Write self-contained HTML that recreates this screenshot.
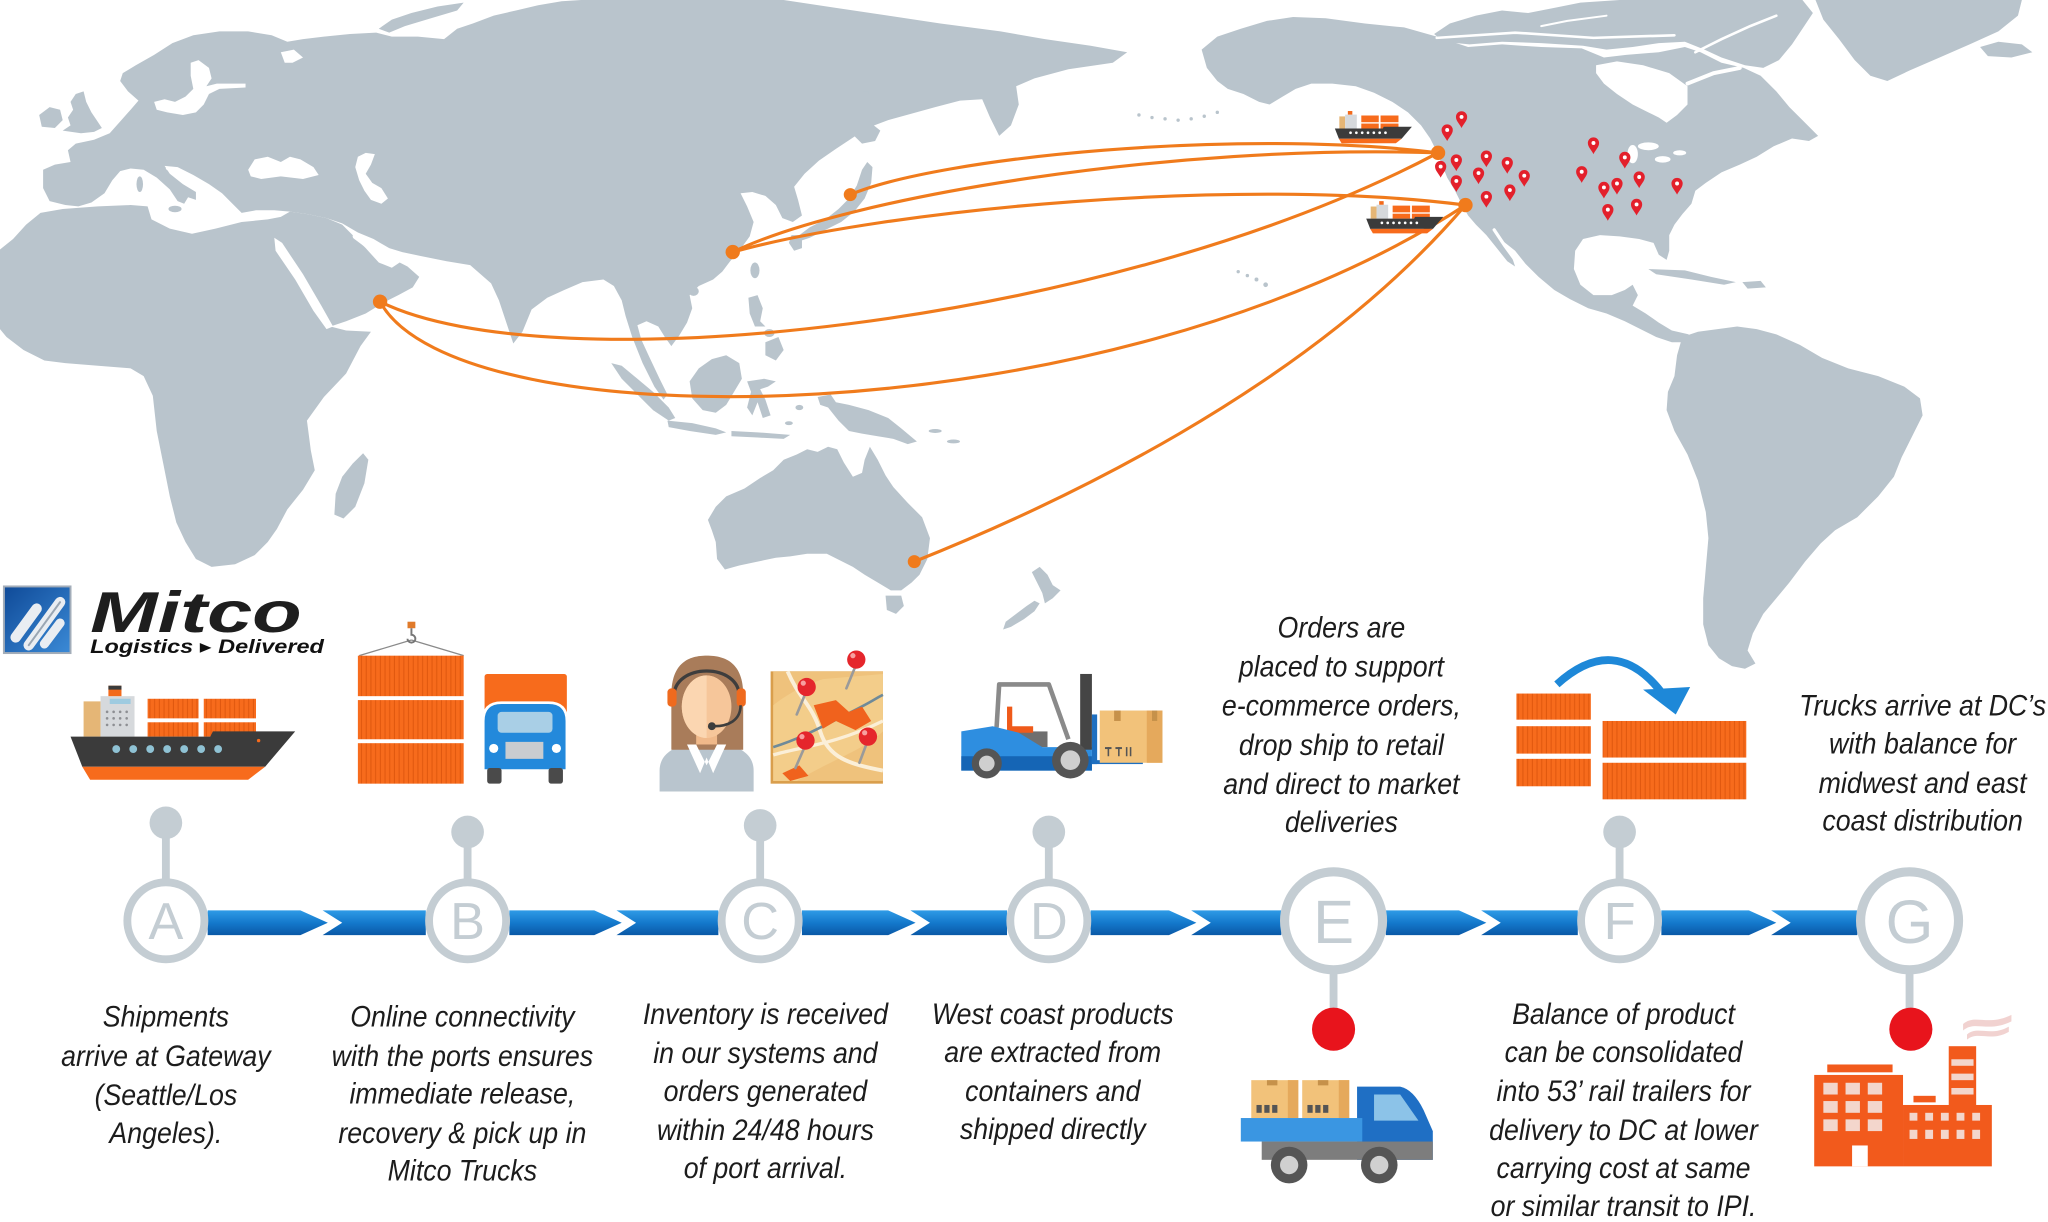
<!DOCTYPE html>
<html>
<head>
<meta charset="utf-8">
<style>
html,body{margin:0;padding:0;background:#fff;}
svg{display:block;}
.t{font-family:"Liberation Sans",sans-serif;font-style:italic;font-size:22.5px;fill:#1c1c1c;text-anchor:middle;}
.lt{font-family:"Liberation Sans",sans-serif;fill:#c4cdd3;text-anchor:middle;}
</style>
</head>
<body>
<svg width="2048" height="1222" viewBox="0 0 1568 935.6" preserveAspectRatio="none" xmlns="http://www.w3.org/2000/svg">
<defs>
  <linearGradient id="bar" x1="0" y1="0" x2="0" y2="1">
    <stop offset="0" stop-color="#2f9be6"/>
    <stop offset="0.5" stop-color="#1479cc"/>
    <stop offset="1" stop-color="#0a58a6"/>
  </linearGradient>
  <linearGradient id="logoG" x1="0" y1="0" x2="1" y2="1">
    <stop offset="0" stop-color="#0f4a98"/>
    <stop offset="1" stop-color="#3b8ad6"/>
  </linearGradient>
  <pattern id="ridge" width="3.6" height="10" patternUnits="userSpaceOnUse">
    <rect width="3.6" height="10" fill="#f76b1c"/>
    <rect x="2.8" width="0.8" height="10" fill="#e0580f"/>
  </pattern>
</defs>

<!-- ================= MAP ================= -->
<g fill="#b9c4cc">
  <!-- Eurasia -->
  <polygon points="50,157 38,154 33,144 33,130 42,126 54,124 52,115 58,110 72,107 84,102 92,93 100,84 106,77 98,70 92,62 94,56 104,50 118,42 132,33 148,27 168,24 190,24 208,27 220,32 232,30 248,28 268,26 288,25 300,28 320,28 340,30 350,22 362,18 378,12 395,8 412,4 430,1 445,0 600,0 640,6 680,12 720,18 766,24 800,30 835,35 863,40 852,48 818,53 792,60 778,66 780,80 774,96 765,104 758,90 752,76 735,77 716,82 698,87 680,92 664,98 652,106 640,114 627,123 616,133 608,143 611,153 614,165 607,170 599,167 594,157 586,150 576,147 567,148 572,158 577,170 574,181 566,192 559,200 553,208 546,214 535,219 528,226 530,236 526,247 520,257 514,265 509,258 504,250 495,246 488,249 491,260 497,273 505,290 511,302 508,306 501,296 492,278 484,258 479,242 476,230 470,219 462,214 446,216 432,222 419,228 407,237 400,254 393,263 387,245 382,230 376,217 360,203 342,200 322,196 308,193 298,190 286,183 274,178 262,171 250,167 236,164 222,162 210,161 196,161 185,163 178,156 170,148 160,141 148,134 136,128 126,127 130,133 140,141 150,147 150,153 144,151 141,156 136,154 130,145 120,136 110,130 100,129 92,131 86,138 80,148 70,155 60,158"/>
  <!-- Africa + Arabia -->
  <polygon points="0,191 10,183 20,172 31,163 48,160 75,158 100,157 113,158 116,168 130,175 147,179 165,175 185,170 205,168 215,166 222,162 236,164 250,167 262,172 270,180 280,190 290,201 300,205 306,201 312,204 321,212 316,220 305,226 293,232 280,240 265,246 253,250 265,253 284,254 276,265 265,286 248,304 235,322 238,345 241,360 232,375 220,390 212,405 205,415 195,425 180,432 162,434 150,428 142,415 135,400 130,380 125,355 120,330 117,303 110,288 100,282 75,280 50,278 34,276 18,268 5,258 0,252"/>
  <!-- Madagascar -->
  <polygon points="278,347 282,352 279,370 272,388 263,397 256,394 257,378 262,365 270,355"/>
  <!-- UK / Ireland -->
  <polygon points="48,100 54,96 52,90 56,84 54,78 58,72 64,70 66,78 70,86 74,92 78,98 72,101 62,102"/>
  <polygon points="30,88 38,82 46,84 48,92 42,98 32,97"/>
  <ellipse cx="107" cy="141" rx="2.5" ry="6"/>
  <ellipse cx="134" cy="160" rx="5" ry="2.5"/>
  <!-- Novaya Zemlya -->
  <polygon points="290,22 300,15 315,10 335,5 355,2 350,8 330,14 310,20 298,25"/>
  <!-- Japan etc -->
  <polygon points="612,180 620,174 632,168 642,160 650,152 656,142 660,130 664,124 668,128 667,140 662,152 654,162 644,170 632,176 620,182 614,184"/>
  <polygon points="606,180 614,180 614,190 608,192 604,186"/>
  <polygon points="655,96 664,92 674,100 670,108 660,110 654,104"/>
  <polygon points="660,70 665,70 668,90 664,92 660,80"/>
  <ellipse cx="578" cy="207" rx="3.5" ry="6"/>
  <ellipse cx="531" cy="223" rx="4" ry="3.5"/>
  <!-- Philippines -->
  <polygon points="573,228 580,226 584,236 582,246 586,250 578,250 574,240"/>
  <polygon points="586,262 596,258 600,268 594,276 586,272"/>
  <ellipse cx="589" cy="255" rx="4" ry="3"/>
  <!-- Indonesia -->
  <polygon points="528,292 535,282 545,275 556,272 566,278 568,290 562,300 556,310 548,316 538,314 530,305"/>
  <polygon points="572,292 585,290 594,292 588,296 582,298 586,306 590,318 584,320 580,308 576,318 572,312 575,300"/>
  <polygon points="468,278 476,280 488,290 500,300 512,312 517,320 512,322 500,314 488,302 476,290"/>
  <polygon points="511,322 530,324 548,328 556,331 548,333 528,330 512,327"/>
  <polygon points="560,330 580,331 605,333 600,336 580,335 560,334"/>
  <polygon points="626,304 636,302 640,308 650,310 665,314 680,320 690,328 702,338 695,340 684,336 672,334 660,332 650,330 642,322 634,312 628,310"/>
  <ellipse cx="612" cy="312" rx="3" ry="2"/><ellipse cx="604" cy="324" rx="3" ry="1.5"/>
  <ellipse cx="716" cy="330" rx="5" ry="1.5"/><ellipse cx="730" cy="338" rx="5" ry="1.5"/>
  <!-- Australia -->
  <polygon points="542,398 548,388 556,380 570,374 582,366 592,360 600,352 610,348 618,344 626,346 634,342 641,344 646,354 653,365 660,362 662,352 666,342 672,352 678,364 684,373 695,385 706,396 712,412 710,428 704,440 698,446 690,452 682,452 672,446 662,440 653,434 645,430 633,424 618,424 605,426 594,427 580,430 566,433 555,436 549,428 548,415 545,406"/>
  <polygon points="678,456 690,456 692,464 686,470 679,467"/>
  <!-- New Zealand -->
  <polygon points="796,434 802,440 806,448 812,452 806,458 800,462 798,454 794,446 790,438"/>
  <polygon points="796,462 792,468 784,474 774,480 768,482 770,476 778,470 786,464 792,460"/>
  <!-- North America -->
  <polygon points="920,38 932,28 950,22 970,16 990,13 1015,14 1045,18 1075,21 1100,28 1124,36 1150,34 1180,36 1211,37 1228,44 1245,42 1270,40 1290,36 1302,40 1318,48 1335,52 1348,58 1360,70 1370,82 1380,92 1392,104 1385,108 1372,106 1358,112 1345,120 1332,126 1318,132 1306,140 1298,146 1295,156 1288,164 1282,172 1278,180 1278,192 1276,199 1270,195 1266,186 1255,183 1240,181 1225,180 1212,183 1206,192 1205,206 1210,218 1220,226 1234,226 1244,222 1250,218 1254,226 1250,234 1260,240 1270,247 1280,253 1293,256 1290,262 1280,262 1268,258 1256,252 1244,246 1230,240 1216,236 1202,229 1190,222 1178,212 1168,202 1160,192 1150,184 1145,178 1152,188 1158,198 1160,204 1154,200 1146,190 1138,180 1130,172 1124,165 1119,156 1114,146 1108,136 1104,126 1100,116 1095,106 1088,96 1078,86 1066,78 1052,71 1038,66 1020,64 1004,64 992,68 982,74 972,80 964,78 952,72 940,68 932,62 924,52"/>
  <!-- Arctic islands -->
  <polygon points="1098,26 1110,18 1130,12 1150,8 1170,10 1190,6 1210,2 1240,0 1380,0 1388,10 1380,22 1372,34 1362,46 1350,52 1336,50 1318,44 1305,38 1290,32 1270,33 1250,36 1230,38 1212,35 1180,33 1150,32 1125,34 1105,32"/>
  <!-- Greenland / Iceland -->
  <polygon points="1390,0 1548,0 1545,12 1530,24 1508,34 1485,44 1462,54 1445,62 1432,58 1420,46 1408,30 1396,15"/>
  <polygon points="1516,36 1530,32 1548,34 1556,40 1540,44 1522,43"/>
  <!-- Caribbean -->
  <polygon points="1262,206 1290,207 1310,212 1329,216 1320,218 1295,214 1268,210"/>
  <polygon points="1334,216 1348,215 1352,220 1338,221"/>
  <!-- South America -->
  <polygon points="1288,258 1300,254 1315,252 1330,250 1345,252 1360,256 1378,264 1395,274 1415,282 1438,288 1458,296 1470,305 1472,318 1465,332 1456,350 1450,365 1438,380 1422,396 1405,406 1394,416 1382,430 1370,446 1360,458 1350,470 1342,485 1338,498 1344,508 1336,512 1326,510 1316,504 1308,494 1304,478 1304,458 1306,435 1308,412 1306,392 1300,368 1292,348 1282,330 1276,314 1277,300 1282,288 1284,272"/>
  <!-- Aleutians & Pacific dots -->
  <circle cx="872" cy="88" r="1.3"/><circle cx="882" cy="90" r="1.3"/><circle cx="892" cy="91" r="1.3"/><circle cx="902" cy="92" r="1.3"/><circle cx="912" cy="91" r="1.3"/><circle cx="922" cy="89" r="1.3"/><circle cx="932" cy="86" r="1.3"/>
  <circle cx="948" cy="208" r="1.3"/><circle cx="955" cy="211" r="1.3"/><circle cx="962" cy="214" r="1.5"/><circle cx="969" cy="218" r="1.8"/>
</g>
<!-- inland seas / channels -->
<g fill="#fff">
  <polygon points="190,130 195,122 205,120 215,124 222,120 230,122 240,128 244,134 232,137 215,135 200,137 192,135"/>
  <polygon points="280,117 287,118 284,126 280,133 285,140 292,144 297,152 292,156 284,153 279,146 275,138 272,128 274,120"/>
  <polygon points="146,48 152,46 160,52 162,60 158,66 166,64 188,64 188,67 168,68 160,72 156,80 150,86 140,88 128,86 120,84 118,78 126,76 134,78 142,74 148,68 146,58"/>
  <polygon points="215,40 225,38 232,44 224,48 218,48"/>
  <polygon points="210,182 216,186 232,210 246,234 255,250 250,252 240,238 226,214 211,192"/>
  <polygon points="1222,50 1238,47 1258,50 1278,56 1292,66 1292,80 1284,88 1276,94 1270,90 1262,86 1250,80 1238,72 1228,64 1222,56"/>
  <ellipse cx="1250" cy="118" rx="4" ry="7"/><ellipse cx="1262" cy="112" rx="8" ry="3"/><ellipse cx="1273" cy="122" rx="6" ry="2.5"/><ellipse cx="1286" cy="117" rx="5" ry="2"/>
</g>
<g fill="none" stroke="#fff" stroke-linecap="round">
  <polyline points="272,181 284,190 294,200" stroke-width="4"/>
  <polyline points="128,129 140,138 150,145" stroke-width="2"/>
  <polyline points="1144,176 1152,188 1160,199" stroke-width="2.5"/>
  <polyline points="1100,29 1160,25 1220,29 1282,27" stroke-width="2"/>
  <polyline points="1298,40 1318,30 1340,20 1360,12" stroke-width="2"/>
  <polyline points="1292,64 1312,56 1332,52" stroke-width="3"/>
  <polyline points="1180,20 1200,16 1230,12" stroke-width="1.5"/>
</g>

<!-- routes -->
<g fill="none" stroke="#f07b1c" stroke-width="2.4">
  <path d="M651,149 C720,120 950,98 1101,117"/>
  <path d="M561,193 C650,150 900,110 1101,117"/>
  <path d="M561,193 C680,160 950,135 1122,157"/>
  <path d="M291,231 C420,295 850,250 1101,117"/>
  <path d="M291,231 C350,340 850,335 1122,157"/>
  <path d="M700,430 C800,390 1000,300 1122,157"/>
</g>
<g fill="#f07b1c">
  <circle cx="651" cy="149" r="5"/><circle cx="561" cy="193" r="5.5"/><circle cx="291" cy="231" r="5.5"/><circle cx="700" cy="430" r="5"/><circle cx="1101" cy="117" r="5.5"/><circle cx="1122" cy="157" r="5.5"/>
</g>

<!-- pins -->
<g fill="#e3202b">
  <g transform="translate(1119,90)"><path d="M0,8 C-1.5,5 -4.3,2.5 -4.3,-0.5 A4.3,4.3 0 1 1 4.3,-0.5 C4.3,2.5 1.5,5 0,8Z"/><circle cy="-0.5" r="1.5" fill="#fff"/></g>
  <g transform="translate(1108,100)"><path d="M0,8 C-1.5,5 -4.3,2.5 -4.3,-0.5 A4.3,4.3 0 1 1 4.3,-0.5 C4.3,2.5 1.5,5 0,8Z"/><circle cy="-0.5" r="1.5" fill="#fff"/></g>
  <g transform="translate(1103,128)"><path d="M0,8 C-1.5,5 -4.3,2.5 -4.3,-0.5 A4.3,4.3 0 1 1 4.3,-0.5 C4.3,2.5 1.5,5 0,8Z"/><circle cy="-0.5" r="1.5" fill="#fff"/></g>
  <g transform="translate(1115,123)"><path d="M0,8 C-1.5,5 -4.3,2.5 -4.3,-0.5 A4.3,4.3 0 1 1 4.3,-0.5 C4.3,2.5 1.5,5 0,8Z"/><circle cy="-0.5" r="1.5" fill="#fff"/></g>
  <g transform="translate(1138,120)"><path d="M0,8 C-1.5,5 -4.3,2.5 -4.3,-0.5 A4.3,4.3 0 1 1 4.3,-0.5 C4.3,2.5 1.5,5 0,8Z"/><circle cy="-0.5" r="1.5" fill="#fff"/></g>
  <g transform="translate(1154,125)"><path d="M0,8 C-1.5,5 -4.3,2.5 -4.3,-0.5 A4.3,4.3 0 1 1 4.3,-0.5 C4.3,2.5 1.5,5 0,8Z"/><circle cy="-0.5" r="1.5" fill="#fff"/></g>
  <g transform="translate(1132,133)"><path d="M0,8 C-1.5,5 -4.3,2.5 -4.3,-0.5 A4.3,4.3 0 1 1 4.3,-0.5 C4.3,2.5 1.5,5 0,8Z"/><circle cy="-0.5" r="1.5" fill="#fff"/></g>
  <g transform="translate(1115,139)"><path d="M0,8 C-1.5,5 -4.3,2.5 -4.3,-0.5 A4.3,4.3 0 1 1 4.3,-0.5 C4.3,2.5 1.5,5 0,8Z"/><circle cy="-0.5" r="1.5" fill="#fff"/></g>
  <g transform="translate(1167,135)"><path d="M0,8 C-1.5,5 -4.3,2.5 -4.3,-0.5 A4.3,4.3 0 1 1 4.3,-0.5 C4.3,2.5 1.5,5 0,8Z"/><circle cy="-0.5" r="1.5" fill="#fff"/></g>
  <g transform="translate(1138,151)"><path d="M0,8 C-1.5,5 -4.3,2.5 -4.3,-0.5 A4.3,4.3 0 1 1 4.3,-0.5 C4.3,2.5 1.5,5 0,8Z"/><circle cy="-0.5" r="1.5" fill="#fff"/></g>
  <g transform="translate(1156,146)"><path d="M0,8 C-1.5,5 -4.3,2.5 -4.3,-0.5 A4.3,4.3 0 1 1 4.3,-0.5 C4.3,2.5 1.5,5 0,8Z"/><circle cy="-0.5" r="1.5" fill="#fff"/></g>
  <g transform="translate(1220,110)"><path d="M0,8 C-1.5,5 -4.3,2.5 -4.3,-0.5 A4.3,4.3 0 1 1 4.3,-0.5 C4.3,2.5 1.5,5 0,8Z"/><circle cy="-0.5" r="1.5" fill="#fff"/></g>
  <g transform="translate(1244,121)"><path d="M0,8 C-1.5,5 -4.3,2.5 -4.3,-0.5 A4.3,4.3 0 1 1 4.3,-0.5 C4.3,2.5 1.5,5 0,8Z"/><circle cy="-0.5" r="1.5" fill="#fff"/></g>
  <g transform="translate(1211,132)"><path d="M0,8 C-1.5,5 -4.3,2.5 -4.3,-0.5 A4.3,4.3 0 1 1 4.3,-0.5 C4.3,2.5 1.5,5 0,8Z"/><circle cy="-0.5" r="1.5" fill="#fff"/></g>
  <g transform="translate(1228,144)"><path d="M0,8 C-1.5,5 -4.3,2.5 -4.3,-0.5 A4.3,4.3 0 1 1 4.3,-0.5 C4.3,2.5 1.5,5 0,8Z"/><circle cy="-0.5" r="1.5" fill="#fff"/></g>
  <g transform="translate(1238,141)"><path d="M0,8 C-1.5,5 -4.3,2.5 -4.3,-0.5 A4.3,4.3 0 1 1 4.3,-0.5 C4.3,2.5 1.5,5 0,8Z"/><circle cy="-0.5" r="1.5" fill="#fff"/></g>
  <g transform="translate(1255,136)"><path d="M0,8 C-1.5,5 -4.3,2.5 -4.3,-0.5 A4.3,4.3 0 1 1 4.3,-0.5 C4.3,2.5 1.5,5 0,8Z"/><circle cy="-0.5" r="1.5" fill="#fff"/></g>
  <g transform="translate(1284,141)"><path d="M0,8 C-1.5,5 -4.3,2.5 -4.3,-0.5 A4.3,4.3 0 1 1 4.3,-0.5 C4.3,2.5 1.5,5 0,8Z"/><circle cy="-0.5" r="1.5" fill="#fff"/></g>
  <g transform="translate(1231,161)"><path d="M0,8 C-1.5,5 -4.3,2.5 -4.3,-0.5 A4.3,4.3 0 1 1 4.3,-0.5 C4.3,2.5 1.5,5 0,8Z"/><circle cy="-0.5" r="1.5" fill="#fff"/></g>
  <g transform="translate(1253,157)"><path d="M0,8 C-1.5,5 -4.3,2.5 -4.3,-0.5 A4.3,4.3 0 1 1 4.3,-0.5 C4.3,2.5 1.5,5 0,8Z"/><circle cy="-0.5" r="1.5" fill="#fff"/></g>
</g>

<!-- small ships on map -->
<g transform="translate(1022,85) scale(0.343) translate(-54,-525)">
  <rect x="64" y="537" width="13" height="27" fill="#e5b676"/>
  <rect x="77" y="533" width="26" height="31" fill="#d6d9dc"/>
  <rect x="83" y="525" width="10" height="8" fill="#f26a1b"/>
  <rect x="113" y="535" width="39" height="15" fill="#f76b1c"/><rect x="156" y="535" width="40" height="15" fill="#f76b1c"/>
  <rect x="113" y="553" width="39" height="11" fill="#f76b1c"/><rect x="156" y="553" width="40" height="11" fill="#f76b1c"/>
  <polygon points="54,564 161,564 163,560 226,560 203,587 63,587" fill="#3b3b3b"/>
  <polygon points="63,587 203,587 190,597 69,597" fill="#f76b1c"/>
  <g fill="#fff"><circle cx="89" cy="573.5" r="3"/><circle cx="102" cy="573.5" r="3"/><circle cx="115" cy="573.5" r="3"/><circle cx="128" cy="573.5" r="3"/><circle cx="141" cy="573.5" r="3"/><circle cx="154" cy="573.5" r="3"/><circle cx="167" cy="573.5" r="3"/></g>
</g>
<g transform="translate(1046,154) scale(0.343) translate(-54,-525)">
  <rect x="64" y="537" width="13" height="27" fill="#e5b676"/>
  <rect x="77" y="533" width="26" height="31" fill="#d6d9dc"/>
  <rect x="83" y="525" width="10" height="8" fill="#f26a1b"/>
  <rect x="113" y="535" width="39" height="15" fill="#f76b1c"/><rect x="156" y="535" width="40" height="15" fill="#f76b1c"/>
  <rect x="113" y="553" width="39" height="11" fill="#f76b1c"/><rect x="156" y="553" width="40" height="11" fill="#f76b1c"/>
  <polygon points="54,564 161,564 163,560 226,560 203,587 63,587" fill="#3b3b3b"/>
  <polygon points="63,587 203,587 190,597 69,597" fill="#f76b1c"/>
  <g fill="#fff"><circle cx="89" cy="573.5" r="3"/><circle cx="102" cy="573.5" r="3"/><circle cx="115" cy="573.5" r="3"/><circle cx="128" cy="573.5" r="3"/><circle cx="141" cy="573.5" r="3"/><circle cx="154" cy="573.5" r="3"/><circle cx="167" cy="573.5" r="3"/></g>
</g>

<!-- ================= LOGO ================= -->
<rect x="3" y="449" width="51" height="51" fill="url(#logoG)" stroke="#a3adb9" stroke-width="1.5"/>
<g stroke-linecap="round" fill="none">
  <line x1="12" y1="488" x2="28" y2="466" stroke="#e9edf2" stroke-width="8"/>
  <line x1="22" y1="494" x2="46" y2="461" stroke="#e9edf2" stroke-width="8"/>
  <line x1="34" y1="493" x2="46" y2="477" stroke="#e9edf2" stroke-width="7"/>
  <line x1="22" y1="494" x2="46" y2="461" stroke="#9aa6b3" stroke-width="1.5"/>
</g>
<text x="69" y="484" font-family="Liberation Sans, sans-serif" font-weight="bold" font-style="italic" font-size="44" fill="#1e1e1e" textLength="162" lengthAdjust="spacingAndGlyphs">Mitco</text>
<text x="69" y="500" font-family="Liberation Sans, DejaVu Sans, sans-serif" font-weight="bold" font-style="italic" font-size="15" fill="#111" textLength="179" lengthAdjust="spacingAndGlyphs">Logistics ▸ Delivered</text>

<!-- ================= ICON A: ship ================= -->
<g>
  <rect x="64" y="537" width="13" height="27" fill="#e5b676"/>
  <rect x="77" y="533" width="26" height="31" fill="#d6d9dc"/>
  <rect x="84" y="535" width="16" height="4" fill="#9ecbe0"/>
  <g fill="#8d8f93"><circle cx="82" cy="545" r="1"/><circle cx="87" cy="545" r="1"/><circle cx="92" cy="545" r="1"/><circle cx="97" cy="545" r="1"/><circle cx="82" cy="550" r="1"/><circle cx="87" cy="550" r="1"/><circle cx="92" cy="550" r="1"/><circle cx="97" cy="550" r="1"/><circle cx="82" cy="555" r="1"/><circle cx="87" cy="555" r="1"/><circle cx="92" cy="555" r="1"/><circle cx="97" cy="555" r="1"/></g>
  <rect x="83" y="525" width="10" height="8" fill="#f26a1b"/><rect x="83" y="525" width="10" height="3" fill="#3b3b3b"/>
  <rect x="113" y="535" width="39" height="15" fill="url(#ridge)"/><rect x="156" y="535" width="40" height="15" fill="url(#ridge)"/>
  <rect x="113" y="553" width="39" height="11" fill="url(#ridge)"/><rect x="156" y="553" width="40" height="11" fill="url(#ridge)"/>
  <polygon points="54,564 161,564 163,560 226,560 203,587 63,587" fill="#3b3b3b"/>
  <polygon points="63,587 203,587 190,597 69,597" fill="#f76b1c"/>
  <circle cx="198" cy="567" r="1.3" fill="#f76b1c"/>
  <g fill="#8fc2d4"><circle cx="89" cy="573.5" r="3"/><circle cx="102" cy="573.5" r="3"/><circle cx="115" cy="573.5" r="3"/><circle cx="128" cy="573.5" r="3"/><circle cx="141" cy="573.5" r="3"/><circle cx="154" cy="573.5" r="3"/><circle cx="167" cy="573.5" r="3"/></g>
</g>

<!-- ================= ICON B: containers + truck ================= -->
<g>
  <line x1="315" y1="490" x2="275" y2="502" stroke="#8a8a8a" stroke-width="1"/>
  <line x1="315" y1="490" x2="355" y2="502" stroke="#8a8a8a" stroke-width="1"/>
  <rect x="312" y="476" width="6" height="5" fill="#e07a2a"/>
  <path d="M315,481 L315,486 A3,3 0 1 1 312,489" fill="none" stroke="#777" stroke-width="1.5"/>
  <rect x="274" y="502" width="81" height="31" fill="url(#ridge)"/>
  <rect x="274" y="536" width="81" height="30" fill="url(#ridge)"/>
  <rect x="274" y="569" width="81" height="31" fill="url(#ridge)"/>
  <rect x="371" y="516" width="63" height="52" rx="2" fill="#f76b1c"/>
  <path d="M370,590 L370,552 Q370,538 384,538 L420,538 Q434,538 434,552 L434,590 Z" fill="#2389db" stroke="#fff" stroke-width="2"/>
  <rect x="381" y="545" width="42" height="16" rx="3" fill="#a9cfe6"/>
  <rect x="387" y="568" width="29" height="13" fill="#c9ccd0"/>
  <circle cx="378" cy="573" r="3.5" fill="#fff"/><circle cx="426" cy="573" r="3.5" fill="#fff"/>
  <rect x="373" y="588" width="11" height="12" rx="2" fill="#4a4a4a"/>
  <rect x="420" y="588" width="11" height="12" rx="2" fill="#4a4a4a"/>
</g>

<!-- ================= ICON C: operator + map ================= -->
<g>
  <path d="M505,606 L505,590 C505,578 515,572 528,569 L554,569 C567,572 577,578 577,590 L577,606 Z" fill="#b9c5ce"/>
  <path d="M514,574 L514,532 C514,507 528,502 541,502 C556,502 569,508 569,532 L569,574 Z" fill="#a97c5a"/>
  <rect x="533" y="552" width="16" height="18" fill="#f0b98a"/>
  <ellipse cx="541" cy="541" rx="19" ry="24" fill="#f6c69a"/>
  <path d="M541,517 A19,24 0 0 0 541,565 Z" fill="#fbd6b1"/>
  <path d="M521,536 C520,515 530,509 541,509 C554,509 562,516 561,536 C556,522 548,517 541,517 C533,517 525,522 521,536 Z" fill="#a97c5a"/>
  <polygon points="526,570 536,592 541,580 546,592 556,570 549,570 541,586 533,570" fill="#fff"/>
  <path d="M516,534 C515,507 567,507 566,534" fill="none" stroke="#3d3d3d" stroke-width="2.5"/>
  <rect x="511" y="527" width="7" height="14" rx="3" fill="#ef6a1e"/>
  <rect x="564" y="527" width="7" height="14" rx="3" fill="#ef6a1e"/>
  <path d="M567,540 C567,552 557,556 547,556" fill="none" stroke="#3d3d3d" stroke-width="2"/>
  <circle cx="545" cy="556" r="3" fill="#3d3d3d"/>

  <rect x="590" y="514" width="86" height="86" fill="#d99e4c"/>
  <rect x="592" y="514" width="84" height="84" fill="#efc27c"/>
  <path d="M592,540 C605,530 615,525 630,520 L676,516 L676,560 C660,575 640,580 610,598 L592,598 Z" fill="#f3cd8a"/>
  <path d="M603,514 C612,535 622,540 628,560 S650,585 676,590" fill="none" stroke="#fbefd8" stroke-width="3"/>
  <path d="M592,578 C612,572 640,570 676,552" fill="none" stroke="#fbefd8" stroke-width="2.5"/>
  <path d="M592,572 C612,566 630,556 650,546 S668,536 676,532" fill="none" stroke="#6f8a99" stroke-width="2"/>
  <polygon points="623,540 640,536 650,545 660,541 667,552 655,559 640,552 630,558" fill="#f0621d"/>
  <polygon points="599,592 612,586 619,594 605,598" fill="#f0621d"/>
  <g stroke="#9a9a9a" stroke-width="2" stroke-linecap="round">
    <line x1="648" y1="527" x2="655" y2="510"/><line x1="610" y1="547" x2="617" y2="530"/>
    <line x1="609" y1="588" x2="616" y2="572"/><line x1="658" y1="584" x2="664" y2="568"/>
  </g>
  <g fill="#e5262c">
    <circle cx="655.6" cy="505" r="7"/><circle cx="617.6" cy="526" r="7"/><circle cx="616.7" cy="567" r="7"/><circle cx="664.5" cy="564" r="7"/>
  </g>
  <g fill="#f7a0a0"><circle cx="653" cy="502" r="2"/><circle cx="615" cy="523" r="2"/><circle cx="614" cy="564" r="2"/><circle cx="662" cy="561" r="2"/></g>
</g>

<!-- ================= ICON D: forklift ================= -->
<g>
  <path d="M763,557 L765,524 L803,524 L818,566" fill="none" stroke="#8a8a8a" stroke-width="3.5" stroke-linejoin="round"/>
  <rect x="778" y="560" width="24" height="12" fill="#6f6f6f"/>
  <path d="M771,541 L775,541 L775,556 L791,556 L791,561 L771,561 Z" fill="#ef5a1a"/>
  <path d="M736,560 L760,556 L780,561 L798,572 L836,572 L836,590 L736,590 Z" fill="#2e8ee0"/>
  <rect x="736" y="579" width="100" height="11" fill="#1565b5"/>
  <rect x="827" y="516" width="9" height="58" fill="#454545"/>
  <rect x="836" y="547" width="4" height="38" fill="#1e6fc0"/>
  <rect x="836" y="582" width="39" height="3" fill="#1e6fc0"/>
  <rect x="842" y="544" width="48" height="40" fill="#f2c27a"/>
  <rect x="878" y="544" width="12" height="40" fill="#e5a95c"/>
  <rect x="853" y="544" width="5" height="8" fill="#c6914a"/><rect x="882" y="544" width="4" height="8" fill="#c6914a"/>
  <g fill="#555"><rect x="846" y="572" width="5" height="1.5"/><rect x="848" y="572" width="1.2" height="7"/><rect x="854" y="572" width="5" height="1.5"/><rect x="856" y="572" width="1.2" height="7"/><rect x="862" y="572" width="1.2" height="7"/><rect x="865" y="572" width="1.2" height="7"/></g>
  <circle cx="755.5" cy="584.5" r="11.5" fill="#555"/><circle cx="755.5" cy="584.5" r="6" fill="#cfcfcf"/>
  <circle cx="819.5" cy="582" r="14" fill="#555"/><circle cx="819.5" cy="582" r="7.5" fill="#cfcfcf"/>
</g>

<!-- ================= ICON F: containers + arrow ================= -->
<g>
  <rect x="1161" y="531" width="57" height="20" fill="url(#ridge)"/>
  <rect x="1161" y="556" width="57" height="21" fill="url(#ridge)"/>
  <rect x="1161" y="581" width="57" height="21" fill="url(#ridge)"/>
  <rect x="1227" y="552" width="110" height="28" fill="url(#ridge)"/>
  <rect x="1227" y="584" width="110" height="28" fill="url(#ridge)"/>
  <path d="M1192,524 Q1236,484 1272,530" fill="none" stroke="#1e88d8" stroke-width="6"/>
  <polygon points="1258,528 1294,526 1283,547" fill="#1e88d8"/>
</g>

<!-- ================= ICON E: truck ================= -->
<g>
  <rect x="958" y="827" width="36" height="29" fill="#f2c27a"/><rect x="986" y="827" width="8" height="29" fill="#e5a95c"/><rect x="970" y="827" width="8" height="4" fill="#c6914a"/>
  <rect x="997" y="827" width="36" height="29" fill="#f2c27a"/><rect x="1025" y="827" width="8" height="29" fill="#e5a95c"/><rect x="1009" y="827" width="8" height="4" fill="#c6914a"/>
  <g fill="#555"><rect x="962" y="846" width="4" height="6"/><rect x="968" y="846" width="4" height="6"/><rect x="974" y="846" width="4" height="6"/><rect x="1001" y="846" width="4" height="6"/><rect x="1007" y="846" width="4" height="6"/><rect x="1013" y="846" width="4" height="6"/></g>
  <path d="M1039,832 L1072,832 Q1082,834 1090,850 L1097,866 L1097,888 L1039,888 Z" fill="#1f6fc4"/>
  <polygon points="1052,838 1072,838 1086,858 1052,858" fill="#8cc3e8"/>
  <rect x="950" y="856" width="93" height="18" fill="#3a96e2"/>
  <rect x="966" y="874" width="131" height="14" fill="#7d7d7d"/>
  <circle cx="987" cy="892" r="14" fill="#555"/><circle cx="987" cy="892" r="7" fill="#d0d0d0"/>
  <circle cx="1056" cy="892" r="14" fill="#555"/><circle cx="1056" cy="892" r="7" fill="#d0d0d0"/>
</g>

<!-- ================= ICON G: factory ================= -->
<g>
  <path d="M1503,784 C1512,776 1522,786 1540,777 L1540,782 C1522,791 1512,781 1503,789 Z" fill="#f1d2d0"/>
  <path d="M1506,792 C1514,785 1524,794 1538,786 L1538,790 C1524,798 1514,789 1506,796 Z" fill="#f1d2d0"/>
  <rect x="1399" y="815" width="50" height="6" fill="#f25a1c"/>
  <rect x="1389" y="823" width="68" height="70" fill="#f25a1c"/>
  <g fill="#f3d6cc">
    <rect x="1396" y="829" width="11" height="9"/><rect x="1413" y="829" width="11" height="9"/><rect x="1430" y="829" width="11" height="9"/>
    <rect x="1396" y="843" width="11" height="9"/><rect x="1413" y="843" width="11" height="9"/><rect x="1430" y="843" width="11" height="9"/>
    <rect x="1396" y="857" width="11" height="9"/><rect x="1413" y="857" width="11" height="9"/><rect x="1430" y="857" width="11" height="9"/>
  </g>
  <rect x="1418" y="877" width="12" height="16" fill="#fff"/>
  <rect x="1492" y="801" width="21" height="46" fill="#f25a1c"/>
  <g fill="#f3d6cc"><rect x="1494" y="811" width="17" height="5"/><rect x="1494" y="822" width="17" height="5"/><rect x="1494" y="833" width="17" height="5"/></g>
  <rect x="1465" y="839" width="17" height="5" fill="#f25a1c"/>
  <rect x="1457" y="846" width="68" height="47" fill="#f25a1c"/>
  <g fill="#f3d6cc">
    <rect x="1462" y="852" width="6" height="6"/><rect x="1474" y="852" width="6" height="6"/><rect x="1486" y="852" width="6" height="6"/><rect x="1498" y="852" width="6" height="6"/><rect x="1510" y="852" width="6" height="6"/>
    <rect x="1462" y="865" width="6" height="7"/><rect x="1474" y="865" width="6" height="7"/><rect x="1486" y="865" width="6" height="7"/><rect x="1498" y="865" width="6" height="7"/><rect x="1510" y="865" width="6" height="7"/>
  </g>
</g>

<!-- ================= TIMELINE ================= -->
<g fill="url(#bar)">
  <polygon points="159,697 230,697 251,706.5 230,716 159,716"/>
  <polygon points="247,697 326,697 326,716 247,716 262,706.5"/>
  <polygon points="390,697 455,697 476,706.5 455,716 390,716"/>
  <polygon points="472,697 550,697 550,716 472,716 487,706.5"/>
  <polygon points="614,697 680,697 701,706.5 680,716 614,716"/>
  <polygon points="697,697 771,697 771,716 697,716 712,706.5"/>
  <polygon points="835,697 895,697 916,706.5 895,716 835,716"/>
  <polygon points="912,697 981,697 981,716 912,716 927,706.5"/>
  <polygon points="1061,697 1117,697 1138,706.5 1117,716 1061,716"/>
  <polygon points="1134,697 1208,697 1208,716 1134,716 1149,706.5"/>
  <polygon points="1272,697 1339,697 1360,706.5 1339,716 1272,716"/>
  <polygon points="1356,697 1422,697 1422,716 1356,716 1371,706.5"/>
</g>

<g fill="#c4cdd3">
  <!-- knobs up -->
  <rect x="124" y="630" width="6" height="46"/><circle cx="127" cy="630" r="12.5"/>
  <rect x="355" y="637" width="6" height="39"/><circle cx="358" cy="637" r="12.5"/>
  <rect x="579" y="632" width="6" height="44"/><circle cx="582" cy="632" r="12.5"/>
  <rect x="800" y="637" width="6" height="39"/><circle cx="803" cy="637" r="12.5"/>
  <rect x="1237" y="637" width="6" height="39"/><circle cx="1240" cy="637" r="12.5"/>
  <!-- stems down -->
  <rect x="1018" y="740" width="6" height="40"/>
  <rect x="1459" y="740" width="6" height="40"/>
</g>
<circle cx="1021" cy="788" r="16.5" fill="#e8141c"/>
<circle cx="1463" cy="788" r="16.5" fill="#e8141c"/>

<g fill="#fff" stroke="#c4cdd3">
  <circle cx="127" cy="705" r="29.5" stroke-width="6"/>
  <circle cx="358" cy="705" r="29.5" stroke-width="6"/>
  <circle cx="582" cy="705" r="29.5" stroke-width="6"/>
  <circle cx="803" cy="705" r="29.5" stroke-width="6"/>
  <circle cx="1021" cy="705" r="37.5" stroke-width="7"/>
  <circle cx="1240" cy="705" r="29.5" stroke-width="6"/>
  <circle cx="1462" cy="705" r="37.5" stroke-width="7"/>
</g>
<g class="lt">
  <text x="127" y="719" font-size="40">A</text>
  <text x="358" y="719" font-size="40">B</text>
  <text x="582" y="719" font-size="40">C</text>
  <text x="803" y="719" font-size="40">D</text>
  <text x="1021" y="722" font-size="47">E</text>
  <text x="1240" y="719" font-size="40">F</text>
  <text x="1462" y="722" font-size="47">G</text>
</g>

<!-- ================= TEXT BLOCKS ================= -->
<g transform="translate(127 0) scale(0.91 1)" class="t">
  <text x="0" y="786">Shipments</text>
  <text x="0" y="816">arrive at Gateway</text>
  <text x="0" y="846">(Seattle/Los</text>
  <text x="0" y="875">Angeles).</text>
</g>
<g transform="translate(354 0) scale(0.91 1)" class="t">
  <text x="0" y="786">Online connectivity</text>
  <text x="0" y="816">with the ports ensures</text>
  <text x="0" y="845">immediate release,</text>
  <text x="0" y="875">recovery &amp; pick up in</text>
  <text x="0" y="904">Mitco Trucks</text>
</g>
<g transform="translate(586 0) scale(0.91 1)" class="t">
  <text x="0" y="784">Inventory is received</text>
  <text x="0" y="814">in our systems and</text>
  <text x="0" y="843">orders generated</text>
  <text x="0" y="873">within 24/48 hours</text>
  <text x="0" y="902">of port arrival.</text>
</g>
<g transform="translate(806 0) scale(0.91 1)" class="t">
  <text x="0" y="784">West coast products</text>
  <text x="0" y="813">are extracted from</text>
  <text x="0" y="843">containers and</text>
  <text x="0" y="872">shipped directly</text>
</g>
<g transform="translate(1027 0) scale(0.91 1)" class="t">
  <text x="0" y="488">Orders are</text>
  <text x="0" y="518">placed to support</text>
  <text x="0" y="548">e-commerce orders,</text>
  <text x="0" y="578">drop ship to retail</text>
  <text x="0" y="608">and direct to market</text>
  <text x="0" y="637">deliveries</text>
</g>
<g transform="translate(1243 0) scale(0.91 1)" class="t">
  <text x="0" y="784">Balance of product</text>
  <text x="0" y="813">can be consolidated</text>
  <text x="0" y="843">into 53’ rail trailers for</text>
  <text x="0" y="873">delivery to DC at lower</text>
  <text x="0" y="902">carrying cost at same</text>
  <text x="0" y="931">or similar transit to IPI.</text>
</g>
<g transform="translate(1472 0) scale(0.91 1)" class="t">
  <text x="0" y="548">Trucks arrive at DC’s</text>
  <text x="0" y="577">with balance for</text>
  <text x="0" y="607">midwest and east</text>
  <text x="0" y="636">coast distribution</text>
</g>
</svg>
</body>
</html>
